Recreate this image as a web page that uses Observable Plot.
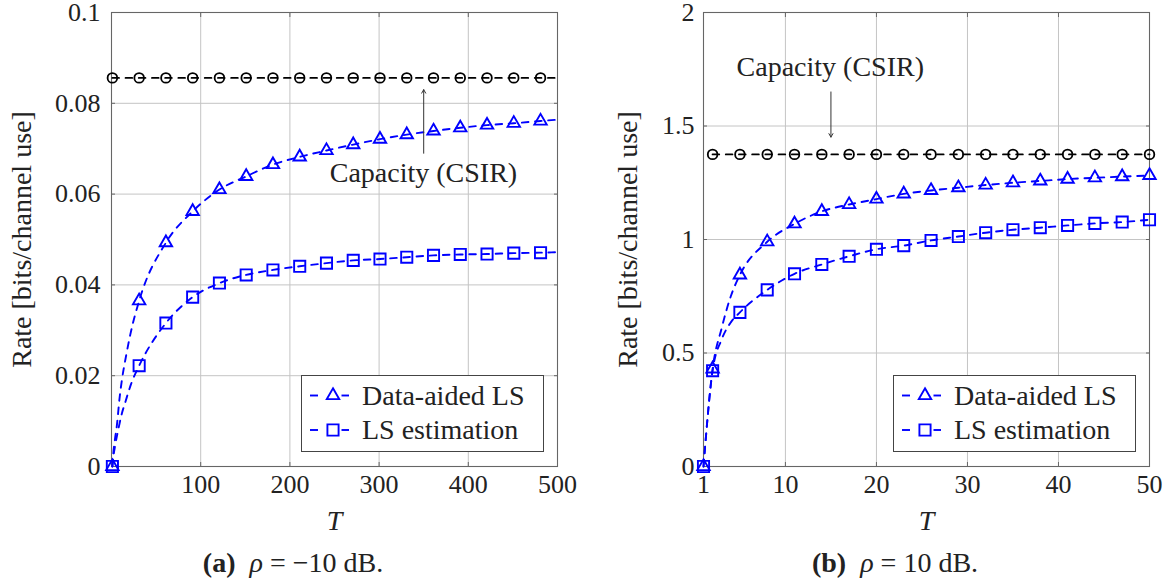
<!DOCTYPE html>
<html><head><meta charset="utf-8">
<script src="https://cdn.jsdelivr.net/npm/d3@7"></script>
<script src="https://cdn.jsdelivr.net/npm/@observablehq/plot@0.6"></script>
<style>
body{margin:0;background:#fff;}
#wrap{position:relative;width:1176px;height:583px;overflow:hidden;font-family:"Liberation Serif",serif;color:#222;}
.panel{position:absolute;top:0;}
.legend{position:absolute;}
.caption{position:absolute;top:549px;font-size:28px;line-height:28px;white-space:nowrap;transform:translateX(-50%);}
</style></head><body><div id="wrap"></div><script>
// ---------- Panel (a): rho = -10 dB ----------
const T_a      = [1, 31, 61, 91, 121, 151, 181, 211, 241, 271, 301, 331, 361, 391, 421, 451, 481];
const capA     = [0.0856, 0.0856, 0.0856, 0.0856, 0.0856, 0.0856, 0.0856, 0.0856, 0.0856, 0.0856, 0.0856, 0.0856, 0.0856, 0.0856, 0.0856, 0.0856, 0.0856];
const dataAidA = [0, 0.0365, 0.0493, 0.0562, 0.0610, 0.0639, 0.0665, 0.0682, 0.0696, 0.0709, 0.0721, 0.0731, 0.0739, 0.0746, 0.0752, 0.0756, 0.0761];
const lsA      = [0, 0.0222, 0.0316, 0.0373, 0.0404, 0.0422, 0.0433, 0.0441, 0.0448, 0.0454, 0.0457, 0.0461, 0.0465, 0.0467, 0.0468, 0.0470, 0.0471];
// extra curve points read between markers (line only)
const dataAidA_T = [2, 4, 6, 9, 12, 16, 21, 500];
const dataAidA_R = [0.0028, 0.0062, 0.0090, 0.0150, 0.0195, 0.0240, 0.0290, 0.0764];
const lsA_T      = [2, 4, 8, 11, 16, 22, 500];
const lsA_R      = [0.0020, 0.0045, 0.0085, 0.0112, 0.0145, 0.0182, 0.0472];
const capA_T     = [500];
const capA_R     = [0.0856];
const xTicksA = [100, 200, 300, 400, 500];
const xTickLabelsA = ["100", "200", "300", "400", "500"];
const yTicksA = [0, 0.02, 0.04, 0.06, 0.08, 0.1];
const yTickLabelsA = ["0", "0.02", "0.04", "0.06", "0.08", "0.1"];
const annotA = {T: 350, text: 349.7, yText: 0.0647, from: 0.0690, to: 0.0830, label: "Capacity (CSIR)"};

// ---------- Panel (b): rho = 10 dB ----------
const T_b      = [1, 2, 5, 8, 11, 14, 17, 20, 23, 26, 29, 32, 35, 38, 41, 44, 47, 50];
const dataAidB = [0, 0.430, 0.844, 0.990, 1.069, 1.124, 1.154, 1.178, 1.201, 1.216, 1.228, 1.240, 1.250, 1.258, 1.266, 1.272, 1.277, 1.282];
const lsB      = [0, 0.422, 0.679, 0.778, 0.849, 0.890, 0.926, 0.957, 0.973, 0.996, 1.013, 1.030, 1.043, 1.052, 1.062, 1.071, 1.077, 1.087];
const capB_T   = [2, 5, 8, 11, 14, 17, 20, 23, 26, 29, 32, 35, 38, 41, 44, 47, 50];
const capB     = [1.375, 1.375, 1.375, 1.375, 1.375, 1.375, 1.375, 1.375, 1.375, 1.375, 1.375, 1.375, 1.375, 1.375, 1.375, 1.375, 1.375];
const dataAidB_T = [3, 4];
const dataAidB_R = [0.610, 0.750];
const lsB_T      = [3, 4];
const lsB_R      = [0.560, 0.635];
const xTicksB = [1, 10, 20, 30, 40, 50];
const xTickLabelsB = ["1", "10", "20", "30", "40", "50"];
const yTicksB = [0, 0.5, 1, 1.5, 2];
const yTickLabelsB = ["0", "0.5", "1", "1.5", "2"];
const annotB = {T: 15, text: 14.93, yText: 1.760, from: 1.650, to: 1.451, label: "Capacity (CSIR)"};

const yLabel = "Rate [bits/channel use]";
const xLabel = "T";
const seriesNames = ["Data-aided LS", "LS estimation"];

const BLUE = "#0000ff";
const zip = (xs, ys) => xs.map((x, i) => ({T: x, R: ys[i]}));
const merged = (xs, ys, ex, ey) => d3.sort([...zip(xs, ys), ...zip(ex, ey)], d => d.T);

const R_CIRC = 4.8, R_TRI = 4.6, R_SQ = 6.3;

function panel(cfg) {
  const gridStyle = {stroke: "#c4c4c4", strokeOpacity: 1, strokeWidth: 1};
  const tickStyle = {stroke: "#666", strokeOpacity: 1, tickSize: -4, tickFormat: () => "", label: null};
  const lineStyle = {x: "T", y: "R", strokeWidth: 1.9, strokeDasharray: "6.6,6.6", curve: "monotone-x"};
  return Plot.plot({
    width: 588, height: 583,
    marginLeft: cfg.ml, marginRight: cfg.mr, marginTop: 12, marginBottom: 117,
    x: {domain: cfg.xDomain, label: null},
    y: {domain: cfg.yDomain, label: null},
    style: {fontFamily: "'Liberation Serif', serif", color: "#222", background: "transparent", overflow: "visible"},
    marks: [
      Plot.gridX(cfg.xGrid, gridStyle),
      Plot.gridY(cfg.yGrid, gridStyle),
      Plot.axisX(cfg.xTicks, {anchor: "bottom", ...tickStyle}),
      Plot.axisX(cfg.xTicks, {anchor: "top", ...tickStyle}),
      Plot.axisY(cfg.yTicks, {anchor: "left", ...tickStyle}),
      Plot.axisY(cfg.yTicks, {anchor: "right", ...tickStyle}),
      Plot.frame({stroke: "#666", strokeWidth: 1.1}),
      Plot.axisX(cfg.xTicks, {anchor: "bottom", tickSize: 0, tickPadding: 8, fontSize: 26, label: null,
        tickFormat: d => cfg.xLabels[cfg.xTicks.indexOf(d)]}),
      Plot.axisY(cfg.yTicks, {anchor: "left", tickSize: 0, tickPadding: cfg.yPad, fontSize: 26, label: null,
        tickFormat: d => cfg.yLabels[cfg.yTicks.indexOf(d)]}),
      Plot.text([yLabel], {frameAnchor: "left", rotate: -90, dx: cfg.yLabelDx, text: d => d, fontSize: 28,
        textAnchor: "middle", lineAnchor: "middle"}),
      Plot.text([xLabel], {frameAnchor: "bottom", dy: 55, text: d => d, fontSize: 28, fontStyle: "italic",
        textAnchor: "middle", lineAnchor: "middle"}),
      // capacity
      Plot.line(cfg.capLine, {...lineStyle, stroke: "#000"}),
      Plot.dot(cfg.capDots, {x: "T", y: "R", symbol: "circle", r: R_CIRC, stroke: "#000", strokeWidth: 1.8, fill: "none"}),
      // LS estimation
      Plot.line(cfg.lsLine, {...lineStyle, stroke: BLUE}),
      Plot.dot(cfg.lsDots, {x: "T", y: "R", symbol: "square", r: R_SQ, stroke: BLUE, strokeWidth: 1.9, fill: "none"}),
      // Data-aided LS
      Plot.line(cfg.daLine, {...lineStyle, stroke: BLUE}),
      Plot.dot(cfg.daDots, {x: "T", y: "R", symbol: "triangle", r: R_TRI, stroke: BLUE, strokeWidth: 1.9, fill: "none"}),
      // annotation
      Plot.arrow([cfg.annot], {x1: "T", x2: "T", y1: "from", y2: "to", stroke: "#333", strokeWidth: 1, headLength: 6, headAngle: 60}),
      Plot.text([cfg.annot], {x: "text", y: "yText", text: "label", fontSize: 28, fill: "#222"})
    ]
  });
}

const wrap = document.getElementById("wrap");

const pA = panel({
  ml: 111, mr: 31, xDomain: [0, 500], yDomain: [0, 0.1],
  xGrid: [100, 200, 300, 400], yGrid: [0.02, 0.04, 0.06, 0.08],
  xTicks: xTicksA, xLabels: xTickLabelsA, yTicks: yTicksA, yLabels: yTickLabelsA, yPad: 11, yLabelDx: -89,
  capLine: merged(T_a, capA, capA_T, capA_R), capDots: zip(T_a, capA),
  lsLine: merged(T_a, lsA, lsA_T, lsA_R), lsDots: zip(T_a, lsA),
  daLine: merged(T_a, dataAidA, dataAidA_T, dataAidA_R), daDots: zip(T_a, dataAidA),
  annot: annotA
});
const pB = panel({
  ml: 115, mr: 27, xDomain: [1, 50], yDomain: [0, 2],
  xGrid: [10, 20, 30, 40], yGrid: [0.5, 1, 1.5],
  xTicks: xTicksB, xLabels: xTickLabelsB, yTicks: yTicksB, yLabels: yTickLabelsB, yPad: 9, yLabelDx: -75,
  capLine: zip(capB_T, capB), capDots: zip(capB_T, capB),
  lsLine: merged(T_b, lsB, lsB_T, lsB_R), lsDots: zip(T_b, lsB),
  daLine: merged(T_b, dataAidB, dataAidB_T, dataAidB_R), daDots: zip(T_b, dataAidB),
  annot: annotB
});

function place(el, left) {
  const d = document.createElement("div");
  d.className = "panel"; d.style.left = left + "px";
  d.appendChild(el); wrap.appendChild(d);
}
place(pA, 0);
place(pB, 588);

// legends
function legend(left, top) {
  const svg = d3.create("svg").attr("width", 243).attr("height", 77).attr("class", "legend")
    .style("left", left + "px").style("top", top + "px").style("position", "absolute");
  svg.append("rect").attr("x", 0.5).attr("y", 0.5).attr("width", 242).attr("height", 76)
    .attr("fill", "#fff").attr("stroke", "#444").attr("stroke-width", 1);
  const rows = [{name: seriesNames[0], sym: d3.symbolTriangle, size: Math.PI * R_TRI * R_TRI, cy: 20.5, base: 30},
                {name: seriesNames[1], sym: d3.symbolSquare, size: Math.PI * R_SQ * R_SQ, cy: 55, base: 63.5}];
  for (const r of rows) {
    svg.append("line").attr("x1", 9).attr("x2", 17).attr("y1", r.cy).attr("y2", r.cy).attr("stroke", BLUE).attr("stroke-width", 1.9);
    svg.append("line").attr("x1", 40.5).attr("x2", 48).attr("y1", r.cy).attr("y2", r.cy).attr("stroke", BLUE).attr("stroke-width", 1.9);
    svg.append("path").attr("d", d3.symbol(r.sym, r.size)()).attr("transform", `translate(32,${r.cy})`)
      .attr("fill", "none").attr("stroke", BLUE).attr("stroke-width", 1.9);
    svg.append("text").attr("x", 61).attr("y", r.base).attr("font-size", 28).attr("fill", "#222")
      .attr("font-family", "'Liberation Serif', serif").text(r.name);
  }
  wrap.appendChild(svg.node());
}
legend(301, 375);
legend(893, 375);

// captions
function caption(cx, tag, val) {
  const d = document.createElement("div");
  d.className = "caption"; d.style.left = cx + "px";
  d.innerHTML = `<b>(${tag})</b>&nbsp; <i>ρ</i> = ${val} dB.`;
  wrap.appendChild(d);
}
caption(293, "a", "−10");
caption(895, "b", "10");
</script></body></html>
